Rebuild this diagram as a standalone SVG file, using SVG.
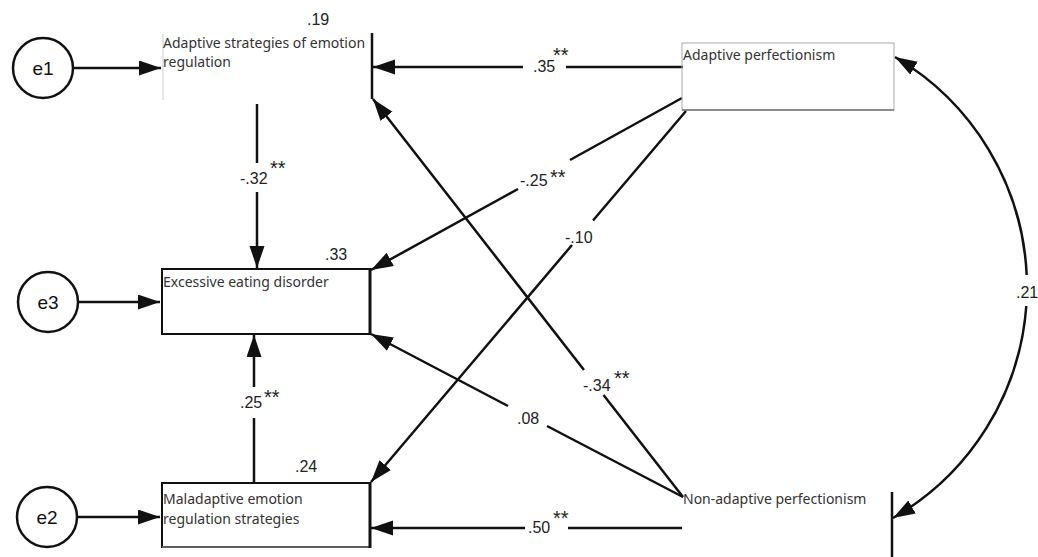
<svg xmlns="http://www.w3.org/2000/svg" width="1038" height="557" viewBox="0 0 1038 557">
<style>
.lbl{font-family:"Noto Sans","Noto Sans CJK KR",sans-serif;font-size:14px;fill:#333}
.num{font-family:"Liberation Sans",Arial,sans-serif;font-size:16px;fill:#222}
.star{font-family:"Liberation Sans",Arial,sans-serif;font-size:20px;fill:#222}
.err{font-family:"Liberation Sans",Arial,sans-serif;font-size:19px;fill:#111;text-anchor:middle}
.c{fill:none;stroke:#111;stroke-width:2.5}
.circ{fill:#fff;stroke:#111;stroke-width:2.5}
</style>
<defs>
<marker id="ah" markerUnits="userSpaceOnUse" markerWidth="24" markerHeight="16" refX="22" refY="7.5" orient="auto-start-reverse" viewBox="0 0 24 16">
<path d="M0,0 L22,7.5 L0,15 z" fill="#111"/>
</marker>
</defs>
<rect width="1038" height="557" fill="#fff"/>

<g id="connectors">
<path class="c" d="M73,68 L161,68" marker-end="url(#ah)"/>
<path class="c" d="M78,302 L160,302" marker-end="url(#ah)"/>
<path class="c" d="M77,517 L160,517" marker-end="url(#ah)"/>
<path class="c" d="M683,67 L566,67 M523,67 L373,67" marker-end="url(#ah)"/>
<path class="c" d="M257,104 L257,163 M257,192 L257,268" marker-end="url(#ah)"/>
<path class="c" d="M254,483 L254,418 M254,387 L254,335" marker-end="url(#ah)"/>
<path class="c" d="M682,98 L570,160 M518,189 L371,270" marker-end="url(#ah)"/>
<path class="c" d="M686,111 L593,220.5 M572,245 L371,482" marker-end="url(#ah)"/>
<path class="c" d="M683,497 L603.5,395 M584,370 L373,99" marker-end="url(#ah)"/>
<path class="c" d="M683,497 L547,426 M508,406 L371,334" marker-end="url(#ah)"/>
<path class="c" d="M682,528 L568,528 M525,528 L371,528" marker-end="url(#ah)"/>
<path class="c" d="M895,57 A267,267 0 0 1 1026.7,275 M1026.3,306 A267,267 0 0 1 893,518" marker-start="url(#ah)" marker-end="url(#ah)"/>
</g>

<g id="e1"><circle class="circ" cx="43" cy="68" r="30"/><text class="err" x="43" y="75">e1</text></g>
<g id="e3"><circle class="circ" cx="48" cy="302" r="30"/><text class="err" x="48" y="309">e3</text></g>
<g id="e2"><circle class="circ" cx="47" cy="517" r="30"/><text class="err" x="47" y="524">e2</text></g>

<g id="adaptive-strategies">
<line x1="163" y1="34" x2="163" y2="100" stroke="#ccc" stroke-width="1"/>
<line x1="372" y1="33" x2="372" y2="99" stroke="#111" stroke-width="2.5"/>
<text class="lbl" x="163" y="48">Adaptive strategies of emotion</text>
<text class="lbl" x="163" y="67">regulation</text>
<text class="num" x="307" y="25">.19</text>
</g>

<g id="adaptive-perfectionism">
<rect x="682" y="43" width="212" height="67" fill="none" stroke="#aaa" stroke-width="1"/>
<line x1="682" y1="110" x2="894" y2="110" stroke="#444" stroke-width="1.2"/>
<text class="lbl" x="683" y="60">Adaptive perfectionism</text>
</g>

<g id="excessive-eating">
<rect x="162" y="269" width="208" height="65" fill="none" stroke="#111" stroke-width="2"/>
<line x1="370" y1="268" x2="370" y2="335" stroke="#111" stroke-width="3"/>
<text class="lbl" x="163" y="287">Excessive eating disorder</text>
<text class="num" x="325" y="260">.33</text>
</g>

<g id="maladaptive">
<rect x="162" y="483" width="208" height="64" fill="none" stroke="#111" stroke-width="2"/>
<line x1="162" y1="547" x2="370" y2="547" stroke="#777" stroke-width="1.5"/>
<line x1="370" y1="482" x2="370" y2="548" stroke="#111" stroke-width="3"/>
<text class="lbl" x="163" y="504">Maladaptive emotion</text>
<text class="lbl" x="163" y="524">regulation strategies</text>
<text class="num" x="295" y="472">.24</text>
</g>

<g id="non-adaptive">
<line x1="892" y1="492" x2="892" y2="557" stroke="#111" stroke-width="2.5"/>
<text class="lbl" x="683" y="504">Non-adaptive perfectionism</text>
</g>

<g id="labels">
<text class="num" x="533" y="72">.35</text><text class="star" x="553" y="62">**</text>
<text class="num" x="240" y="184">-.32</text><text class="star" x="270" y="175">**</text>
<text class="num" x="520" y="186">-.25</text><text class="star" x="550" y="184">**</text>
<text class="num" x="565" y="243">-.10</text>
<text class="num" x="583" y="391">-.34</text><text class="star" x="614" y="385">**</text>
<text class="num" x="517" y="424">.08</text>
<text class="num" x="240" y="408">.25</text><text class="star" x="264" y="404">**</text>
<text class="num" x="528" y="533">.50</text><text class="star" x="553" y="525">**</text>
<text class="num" x="1016" y="298">.21</text>
</g>
</svg>
